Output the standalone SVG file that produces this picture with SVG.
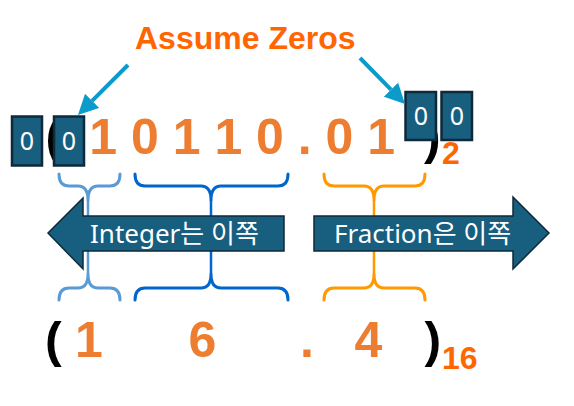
<svg xmlns="http://www.w3.org/2000/svg" width="574" height="406" viewBox="0 0 574 406">
  <defs>
    <marker id="ptr" viewBox="0 0 10 10" refX="0" refY="5" markerWidth="20" markerHeight="20" markerUnits="userSpaceOnUse" orient="auto">
      <path d="M0,0 L10,5 L0,10 z" fill="#0A9BCB"/>
    </marker>
    <style>
      .title { font-family: "Liberation Sans", Arial, sans-serif; font-weight: bold; font-size: 32px; fill: #FF6600; }
      .dig { font-family: "Liberation Sans", Arial, sans-serif; font-weight: bold; font-size: 50px; fill: #ED7D31; }
      .par { font-family: "Liberation Sans", Arial, sans-serif; font-weight: bold; font-size: 50px; fill: #000000; }
      .sub { font-family: "Liberation Sans", Arial, sans-serif; font-weight: bold; font-size: 32px; fill: #FF6600; }
      .box { fill: #175E7F; stroke: #0E2A3A; stroke-width: 2.5; }
      .boxt { font-family: "Noto Sans", "Noto Sans CJK KR", sans-serif; font-size: 25px; fill: #FFFFFF; text-anchor: middle; }
      .big { fill: #175E7F; stroke: #0E2A3A; stroke-width: 1.5; }
      .bigt { font-family: "Noto Sans", "Noto Sans CJK KR", sans-serif; font-size: 26px; fill: #FFFFFF; }
      .brace { fill: none; stroke-width: 3; stroke-linecap: round; stroke-linejoin: round; }
      .stem { fill: none; stroke-width: 2.5; }
      .ptr { stroke: #0A9BCB; stroke-width: 4; fill: none; }
    </style>
  </defs>
  <rect width="574" height="406" fill="#FFFFFF"/>

  <g id="title">
    <text class="title" x="135" y="49">Assume Zeros</text>
  </g>

  <g id="binary">
    <text class="par" x="45.5" y="154">(</text>
    <text class="dig" x="89.3" y="154">1 0 1 1 0 . 0 1</text>
    <text class="par" x="424" y="154">)</text>
    <text class="sub" x="442" y="164">2</text>
  </g>

  <g id="hex">
    <text class="par" x="45" y="357">(</text>
    <text class="dig" x="89" y="357" text-anchor="middle">1</text>
    <text class="dig" x="202.5" y="357" text-anchor="middle">6</text>
    <text class="dig" x="307" y="357" text-anchor="middle">.</text>
    <text class="dig" x="368.5" y="357" text-anchor="middle">4</text>
    <text class="par" x="424.5" y="357">)</text>
    <text class="sub" x="442" y="369">16</text>
  </g>

  <g id="brace-int-low" stroke="#5B9BD5">
    <path class="brace" d="M59,174 Q59,186 69,186 H78 Q88,186 88,200 Q88,186 98,186 H110 Q120,186 120,174"/>
    <path class="stem" d="M88,200 V274"/>
    <path class="brace" d="M59,300 Q59,288 69,288 H78 Q88,288 88,274 Q88,288 98,288 H110 Q120,288 120,300"/>
  </g>
  <g id="brace-int-high" stroke="#0066CC">
    <path class="brace" d="M135,174 Q135,186 145,186 H201 Q211,186 211,200 Q211,186 221,186 H278 Q288,186 288,174"/>
    <path class="stem" d="M211,200 V274"/>
    <path class="brace" d="M135,300 Q135,288 145,288 H201 Q211,288 211,274 Q211,288 221,288 H278 Q288,288 288,300"/>
  </g>
  <g id="brace-frac" stroke="#FF9900">
    <path class="brace" d="M324,174 Q324,186 334,186 H364 Q374,186 374,200 Q374,186 384,186 H415 Q425,186 425,174"/>
    <path class="stem" d="M374,200 V274"/>
    <path class="brace" d="M324,300 Q324,288 334,288 H364 Q374,288 374,274 Q374,288 384,288 H415 Q425,288 425,300"/>
  </g>

  <g id="arrow-integer">
    <polygon class="big" points="48,233 83,198 83,216 284,216 284,251 83,251 83,269"/>
    <text class="bigt" x="90" y="243">Integer는 이쪽</text>
  </g>
  <g id="arrow-fraction">
    <polygon class="big" points="549,233 513,197 513,216 314,216 314,251 513,251 513,269"/>
    <text class="bigt" x="334" y="243">Fraction은 이쪽</text>
  </g>

  <g id="box-1">
    <rect class="box" x="12" y="116.5" width="30" height="49"/>
    <text class="boxt" x="27" y="150">0</text>
  </g>
  <g id="box-2">
    <rect class="box" x="54" y="116.5" width="30" height="49"/>
    <text class="boxt" x="69" y="150">0</text>
  </g>
  <g id="box-3">
    <rect class="box" x="405.5" y="92" width="30.5" height="48"/>
    <text class="boxt" x="421" y="125">0</text>
  </g>
  <g id="box-4">
    <rect class="box" x="441.5" y="92" width="30.5" height="48"/>
    <text class="boxt" x="457" y="125">0</text>
  </g>

  <g id="connectors">
    <line class="ptr" x1="128" y1="65" x2="92.1" y2="100.9" marker-end="url(#ptr)"/>
    <line class="ptr" x1="360" y1="58" x2="391" y2="89.7" marker-end="url(#ptr)"/>
  </g>
</svg>
